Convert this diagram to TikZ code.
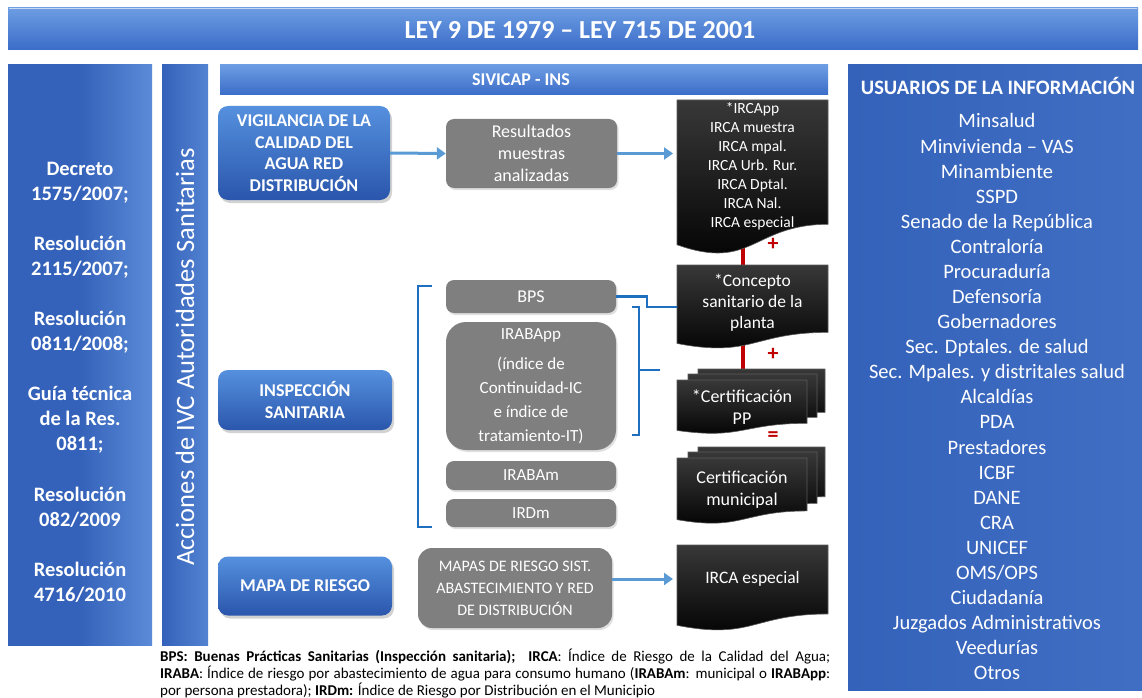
\documentclass[tikz,border=0pt]{standalone}
\usepackage{fontspec}
\setmainfont{Carlito}
\usetikzlibrary{arrows.meta,shadows,calc}
\pgfdeclarelayer{bg}
\pgfsetlayers{bg,main}
\definecolor{bannerTop}{HTML}{6C9DE3}
\definecolor{bannerBot}{HTML}{3B6CC8}
\definecolor{panelA}{HTML}{3462BA}
\definecolor{panelB}{HTML}{5B8BD8}
\definecolor{boxTop}{HTML}{5590DE}
\definecolor{boxBot}{HTML}{2A56AC}
\definecolor{grayBox}{HTML}{7F7F7F}
\definecolor{arrowBlue}{HTML}{5B9BD5}
\definecolor{brBlue}{HTML}{1F6FC0}
\definecolor{docTop}{HTML}{383838}
\definecolor{docEdge}{HTML}{5A5A5A}
\definecolor{redc}{HTML}{C00000}
\newcommand{\docshape}[5]{%
  \shadedraw[top color=docTop, bottom color=black, draw=docEdge, line width=0.6pt]
    (#2,#3) -- ({#2+#4},#3) -- ({#2+#4},{#3+0.802*#5})
    .. controls ({#2+0.5*#4},{#3+0.802*#5}) and ({#2+0.5*#4},{#3+1.107*#5}) .. (#2,{#3+0.934*#5}) -- cycle;
  \node[inner sep=0pt, outer sep=0pt, minimum width=#4, minimum height=#5, anchor=north west] (#1) at (#2,#3) {};
}
\tikzset{
 bluebox/.style={rounded corners=10pt, top color=boxTop, bottom color=boxBot, text=white,
   font=\fontsize{18}{21.5}\selectfont\bfseries, align=center,
   drop shadow={opacity=0.35, shadow xshift=2pt, shadow yshift=-3pt}},
 graybox/.style={rounded corners=8pt, fill=grayBox, text=white, align=center,
   font=\fontsize{18}{22}\selectfont,
   drop shadow={opacity=0.25, shadow xshift=1.5pt, shadow yshift=-2pt}},
 doctext/.style={text=white, align=center, inner sep=0pt},
 flow/.style={draw=arrowBlue, line width=3pt, -{Triangle[length=9pt,width=12pt]}},
 link/.style={draw=brBlue, line width=2.5pt},
 redlink/.style={draw=redc, line width=3.5pt},
 sign/.style={text=redc, font=\fontsize{22}{22}\selectfont\bfseries, inner sep=0pt},
 usr/.style={text=white, anchor=base, font=\fontsize{20.5}{25}\selectfont, inner sep=0pt},
 leg/.style={text=white, anchor=base, font=\fontsize{20.5}{25}\selectfont\bfseries, inner sep=0pt},
}
\begin{document}
\begin{tikzpicture}[x=1pt,y=-1pt]
\useasboundingbox (0,0) rectangle (1142,698);
\begin{pgfonlayer}{bg}
\fill[white] (0,0) rectangle (1142,698);
\end{pgfonlayer}

% top banner
\shade[top color=bannerTop, bottom color=bannerBot] (8,8) rectangle (1138,50);
\draw[white!60!bannerTop, line width=1pt] (9,9) -- (1137,9);
\node[text=white, font=\fontsize{26}{28}\selectfont\bfseries] (title) at (580,30) {LEY 9 DE 1979 – LEY 715 DE 2001};

% left panel
\shade[left color=panelA, right color=panelB, middle color=panelA] (8,65) rectangle (152,645);
\foreach \yy/\tx [count=\i] in {168/Decreto, 193/{1575/2007;}, 243/Resolución, 268/{2115/2007;},
   318/Resolución, 343/{0811/2008;}, 393/Guía técnica, 418/de la Res., 443/{0811;},
   494/Resolución, 519/{082/2009}, 569/Resolución, 594/{4716/2010}}
  \node[leg] (leg\i) at (80,\yy+7) {\tx};

% vertical bar
\shade[left color=panelA, right color=panelB!80!panelA] (162,65) rectangle (208,645);
\node[rotate=90, text=white, font=\fontsize{26.5}{30}\selectfont] (acc) at (185,357) {Acciones de IVC Autoridades Sanitarias};

% SIVICAP bar
\shade[top color=bannerTop, bottom color=bannerBot] (220,65) rectangle (828,95);
\node[text=white, font=\fontsize{18}{20}\selectfont\bfseries] (sivicap) at (521,80) {SIVICAP - INS};

% right panel
\shade[left color=panelA, right color=panelA!70!panelB] (848,65) rectangle (1142,690);
\node[text=white, font=\fontsize{20.5}{25}\selectfont\bfseries, anchor=base, inner sep=0pt] (usrtitle) at (998,95) {USUARIOS DE LA INFORMACIÓN};
\foreach \tx [count=\i] in {Minsalud, Minvivienda – VAS, Minambiente, SSPD, Senado de la República,
   Contraloría, Procuraduría, Defensoría, Gobernadores, Sec. Dptales. de salud,
   Sec. Mpales. y distritales salud, Alcaldías, PDA, Prestadores, ICBF, DANE, CRA, UNICEF,
   OMS/OPS, Ciudadanía, Juzgados Administrativos, Veedurías, Otros}
  \node[usr] (u\i) at (997,{128+25.08*(\i-1)}) {\tx};

% blue boxes
\node[bluebox, minimum width=172pt, minimum height=94pt] (vig) at (304,153) {VIGILANCIA DE LA\\CALIDAD DEL\\AGUA RED\\DISTRIBUCIÓN};
\node[bluebox, minimum width=174pt, minimum height=60pt] (insp) at (305,400) {INSPECCIÓN\\SANITARIA};
\node[bluebox, minimum width=174pt, minimum height=59pt] (mapa) at (305,586) {MAPA DE RIESGO};

% gray boxes
\node[graybox, minimum width=171pt, minimum height=69pt] (res) at (531.5,153.5) {Resultados\\muestras\\analizadas};
\node[graybox, minimum width=170pt, minimum height=33pt] (bps) at (531,296.5) {BPS};
\node[graybox, rounded corners=20pt, minimum width=170pt, minimum height=128pt, font=\fontsize{17}{24}\selectfont] (iraba) at (531,386) {IRABApp\\[6pt](índice de\\Continuidad-IC\\e índice de\\tratamiento-IT)};
\node[graybox, minimum width=170pt, minimum height=29pt, font=\fontsize{17}{20}\selectfont] (irabam) at (531,475.5) {IRABAm};
\node[graybox, minimum width=170pt, minimum height=28pt, font=\fontsize{17}{20}\selectfont] (irdm) at (531,513) {IRDm};
\node[graybox, rounded corners=14pt, minimum width=194pt, minimum height=80pt, font=\fontsize{16}{22}\selectfont] (mapas) at (515,588) {MAPAS DE RIESGO SIST.\\ABASTECIMIENTO Y RED\\DE DISTRIBUCIÓN};

% documents
\docshape{ircaS}{677}{100}{151}{155}
\docshape{conceptoS}{677}{265}{151}{84}
\docshape{certppC}{698}{369}{127}{54}
\docshape{certppB}{688}{374}{129}{54}
\docshape{certppS}{677}{380}{130}{54}
\docshape{certmunC}{698}{447}{127}{62}
\docshape{certmunB}{688}{452}{129}{64}
\docshape{certmunS}{677}{458}{130}{66}
\docshape{espS}{677}{545}{151}{86}

\node[doctext, font=\fontsize{15.5}{19}\selectfont] (irca) at (752.5,166) {*IRCApp\\IRCA muestra\\IRCA mpal.\\IRCA Urb. Rur.\\IRCA Dptal.\\IRCA Nal.\\IRCA especial};
\node[doctext, font=\fontsize{17.5}{21}\selectfont] (concepto) at (752.5,303) {*Concepto\\sanitario de la\\planta};
\node[doctext, font=\fontsize{18}{22}\selectfont] (certpp) at (742,407) {*Certificación\\PP};
\node[doctext, font=\fontsize{18}{22}\selectfont] (certmun) at (742,490) {Certificación\\municipal};
\node[doctext, font=\fontsize{17.5}{21}\selectfont] (esp) at (752.5,579) {IRCA especial};

% red links (behind documents)
\begin{pgfonlayer}{bg}
\draw[redlink] ([xshift=-9.5pt]ircaS.center) -- ([xshift=-9.5pt]conceptoS.center);
\draw[redlink] ([xshift=-9.5pt]conceptoS.center) -- ([xshift=-9.5pt]conceptoS.center |- certppS.center);
\end{pgfonlayer}
\node[sign] (plus1) at (773,244) {+};
\node[sign] (plus2) at (773,354) {+};
\node[sign] (eq) at (773,437) {=};

% arrows
\draw[flow] (vig.east) -- (res.west);
\draw[flow, shorten >=4pt] (res.east) -- (res.east -| ircaS.west);
\draw[flow, shorten >=4pt] (mapas.east |- esp.center) -- (espS.west |- esp.center);

% BPS link
\draw[link] (bps.east) -- ++(31,0) |- (conceptoS.west);

% brackets
\draw[link] (432,286) -- (418,286) -- (418,527) -- (432,527);
\draw[link] (632,307) -- (639,307) -- (639,435) -- (632,435);
\coordinate (b2m) at (639,370);
\draw[link] (b2m) -- ++(21,0);

% footnote
\node[anchor=north west, text width=670pt, inner sep=0pt, align=justify, font=\fontsize{15}{17}\selectfont] (foot) at (160,649)
{\textbf{BPS: Buenas Prácticas Sanitarias (Inspección sanitaria);}\ \ \textbf{IRCA}: Índice de Riesgo de la Calidad del Agua;\linebreak
\textbf{IRABA}: Índice de riesgo por abastecimiento de agua para consumo humano (\textbf{IRABAm}: municipal o \textbf{IRABApp}:\linebreak
por persona prestadora); \textbf{IRDm:} Índice de Riesgo por Distribución en el Municipio};
\end{tikzpicture}
\end{document}
